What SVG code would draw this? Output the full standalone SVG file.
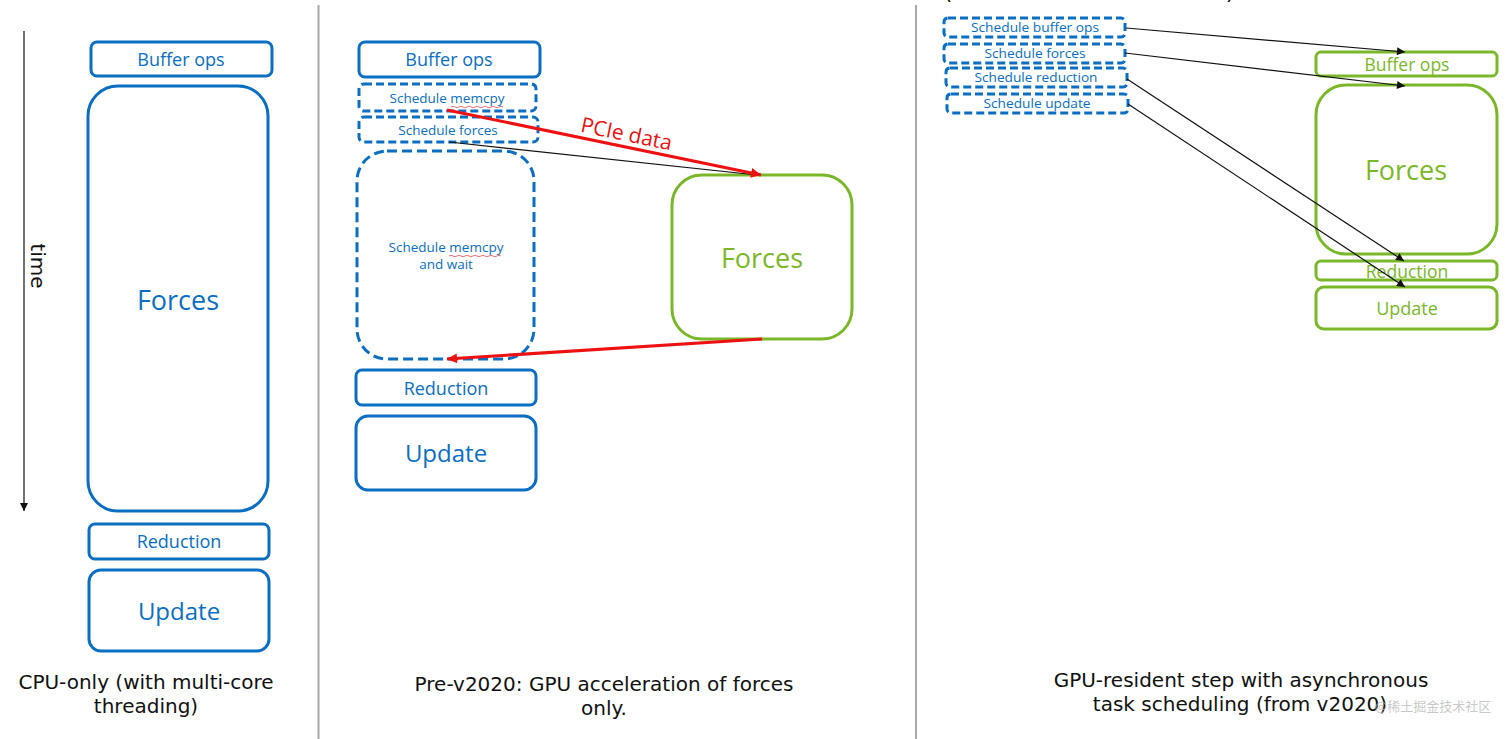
<svg xmlns="http://www.w3.org/2000/svg" width="1512" height="739" viewBox="0 0 1512 739">
<defs>
<style>
.blue{fill:none;stroke:#0a6fc2;stroke-width:3}
.bdash{fill:none;stroke:#0a6fc2;stroke-width:3;stroke-dasharray:8 4}
.bdash2{fill:none;stroke:#0a6fc2;stroke-width:3;stroke-dasharray:10 5}
.green{fill:none;stroke:#7ab829;stroke-width:3}
.bt{fill:#0a6fc2;font-family:"Open Sans","Noto Sans",sans-serif;text-anchor:middle}
.gt{fill:#7ab829;font-family:"Open Sans","Noto Sans",sans-serif;text-anchor:middle}
.cap{fill:#111;font-family:"DejaVu Sans",Verdana,sans-serif;font-size:20px;text-anchor:middle}
.div{stroke:#a8a8a8;stroke-width:2}
.thin{stroke:#111;stroke-width:1.2;fill:none}
.red{stroke:#ee1111;stroke-width:3;fill:none}
.squig{stroke:#e05050;stroke-width:0.8;fill:none}
</style>
<marker id="ah" viewBox="0 0 10 10" refX="10" refY="5" markerWidth="10" markerHeight="8" markerUnits="userSpaceOnUse" orient="auto"><path d="M0,0 L10,5 L0,10 z" fill="#111"/></marker>
<marker id="rah" viewBox="0 0 10 10" refX="10" refY="5" markerWidth="14" markerHeight="10" markerUnits="userSpaceOnUse" orient="auto"><path d="M0,0 L10,5 L0,10 z" fill="#ee1111"/></marker>
</defs>
<rect width="1512" height="739" fill="#fff"/>

<g id="dividers">
<line class="div" x1="318.5" y1="5" x2="318.5" y2="739"/>
<line class="div" x1="916" y1="5" x2="916" y2="739"/>
</g>

<g id="partial-title">
<text x="948" y="-1" font-family="DejaVu Sans,sans-serif" font-size="22" fill="#111" text-anchor="middle">(</text>
<text x="1230" y="-1" font-family="DejaVu Sans,sans-serif" font-size="22" fill="#111" text-anchor="middle">)</text>
</g>

<!-- Panel 1 -->
<g id="time-axis">
<line class="thin" x1="24" y1="31" x2="24" y2="511" marker-end="url(#ah)"/>
<text transform="translate(31,266) rotate(90)" font-family="DejaVu Sans,sans-serif" font-size="20" fill="#111" text-anchor="middle">time</text>
</g>
<g id="p1-buffer"><rect class="blue" x="91" y="42" width="181" height="34" rx="6"/><text class="bt" x="181" y="66" font-size="18">Buffer ops</text></g>
<g id="p1-forces"><rect class="blue" x="88" y="86" width="180" height="425" rx="30"/><text class="bt" x="178" y="310" font-size="27">Forces</text></g>
<g id="p1-reduction"><rect class="blue" x="89" y="524" width="180" height="35" rx="6"/><text class="bt" x="179" y="548" font-size="18">Reduction</text></g>
<g id="p1-update"><rect class="blue" x="89" y="570" width="180" height="81" rx="12"/><text class="bt" x="179" y="620" font-size="24">Update</text></g>
<g id="p1-caption">
<text class="cap" x="146" y="689">CPU-only (with multi-core</text>
<text class="cap" x="146" y="713">threading)</text>
</g>

<!-- Panel 2 -->
<g id="p2-buffer"><rect class="blue" x="359" y="42" width="181" height="35" rx="6"/><text class="bt" x="449" y="66" font-size="18">Buffer ops</text></g>
<g id="p2-sched-memcpy"><rect class="bdash" x="359" y="84" width="177" height="27" rx="5"/><text class="bt" x="447" y="103" font-size="13.5">Schedule memcpy</text><path class="squig" d="M451,107 q2,-1.5 4,0 t4,0 t4,0 t4,0 t4,0 t4,0 t4,0 t4,0 t4,0 t4,0 t4,0 t4,0 t4,0"/></g>
<g id="p2-sched-forces"><rect class="bdash" x="359" y="117" width="179" height="25" rx="5"/><text class="bt" x="448" y="135" font-size="13.5">Schedule forces</text></g>
<g id="p2-sched-wait"><rect class="bdash2" x="357" y="151" width="177" height="208" rx="30"/><text class="bt" x="446" y="252" font-size="13.5">Schedule memcpy</text><text class="bt" x="446" y="269" font-size="13.5">and wait</text><path class="squig" d="M449,256 q2,-1.5 4,0 t4,0 t4,0 t4,0 t4,0 t4,0 t4,0 t4,0 t4,0 t4,0 t4,0 t4,0 t4,0"/></g>
<g id="p2-forces-gpu"><rect class="green" x="672" y="175" width="180" height="164" rx="30"/><text class="gt" x="762" y="268" font-size="27">Forces</text></g>
<g id="p2-reduction"><rect class="blue" x="356" y="370" width="180" height="35" rx="6"/><text class="bt" x="446" y="395" font-size="18">Reduction</text></g>
<g id="p2-update"><rect class="blue" x="356" y="416" width="180" height="74" rx="12"/><text class="bt" x="446" y="462" font-size="24">Update</text></g>
<g id="p2-caption">
<text class="cap" x="604" y="691">Pre-v2020: GPU acceleration of forces</text>
<text class="cap" x="604" y="715">only.</text>
</g>

<!-- Panel 3 -->
<g id="p3-sched-buffer"><rect class="bdash" x="944" y="18" width="181" height="19" rx="4"/><text class="bt" x="1035" y="32" font-size="13.5" textLength="128" lengthAdjust="spacingAndGlyphs">Schedule buffer ops</text></g>
<g id="p3-sched-forces"><rect class="bdash" x="944" y="44" width="181" height="19" rx="4"/><text class="bt" x="1035" y="58" font-size="13.5" textLength="101" lengthAdjust="spacingAndGlyphs">Schedule forces</text></g>
<g id="p3-sched-reduction"><rect class="bdash" x="946" y="68" width="181" height="19" rx="4"/><text class="bt" x="1036" y="82" font-size="13.5" textLength="123" lengthAdjust="spacingAndGlyphs">Schedule reduction</text></g>
<g id="p3-sched-update"><rect class="bdash" x="947" y="94" width="181" height="19" rx="4"/><text class="bt" x="1037" y="108" font-size="13.5" textLength="107" lengthAdjust="spacingAndGlyphs">Schedule update</text></g>
<g id="p3-buffer"><rect class="green" x="1316" y="52" width="181" height="24" rx="5"/><text class="gt" x="1407" y="71" font-size="17.5">Buffer ops</text></g>
<g id="p3-forces"><rect class="green" x="1316" y="85" width="181" height="169" rx="30"/><text class="gt" x="1406" y="180" font-size="27">Forces</text></g>
<g id="p3-reduction"><rect class="green" x="1316" y="261" width="181" height="19" rx="5"/><text class="gt" x="1407" y="278" font-size="17.5">Reduction</text></g>
<g id="p3-update"><rect class="green" x="1316" y="287" width="181" height="42" rx="8"/><text class="gt" x="1407" y="315" font-size="18">Update</text></g>
<g id="p3-caption">
<text class="cap" x="1241" y="687">GPU-resident step with asynchronous</text>
<text class="cap" x="1240" y="711">task scheduling (from v2020)</text>
</g>
<text x="1433" y="711" font-family="Noto Sans CJK SC,sans-serif" font-size="13" fill="#bbbbbb" fill-opacity="0.8" text-anchor="middle">@稀土掘金技术社区</text>

<g id="connectors">
<line class="thin" x1="449" y1="142" x2="757" y2="175"/>
<line class="red" x1="447" y1="110" x2="761" y2="175" marker-end="url(#rah)"/>
<line class="red" x1="762" y1="339" x2="447" y2="359" marker-end="url(#rah)"/>
<text x="625" y="141" transform="rotate(11.7 625 141)" font-family="Open Sans,sans-serif" font-size="21" fill="#ee1111" text-anchor="middle">PCIe data</text>
<line class="thin" x1="1126" y1="28" x2="1405" y2="52" marker-end="url(#ah)"/>
<line class="thin" x1="1125" y1="53" x2="1405" y2="86" marker-end="url(#ah)"/>
<line class="thin" x1="1127" y1="79" x2="1404" y2="261" marker-end="url(#ah)"/>
<line class="thin" x1="1128" y1="104" x2="1405" y2="287" marker-end="url(#ah)"/>
</g>
</svg>
